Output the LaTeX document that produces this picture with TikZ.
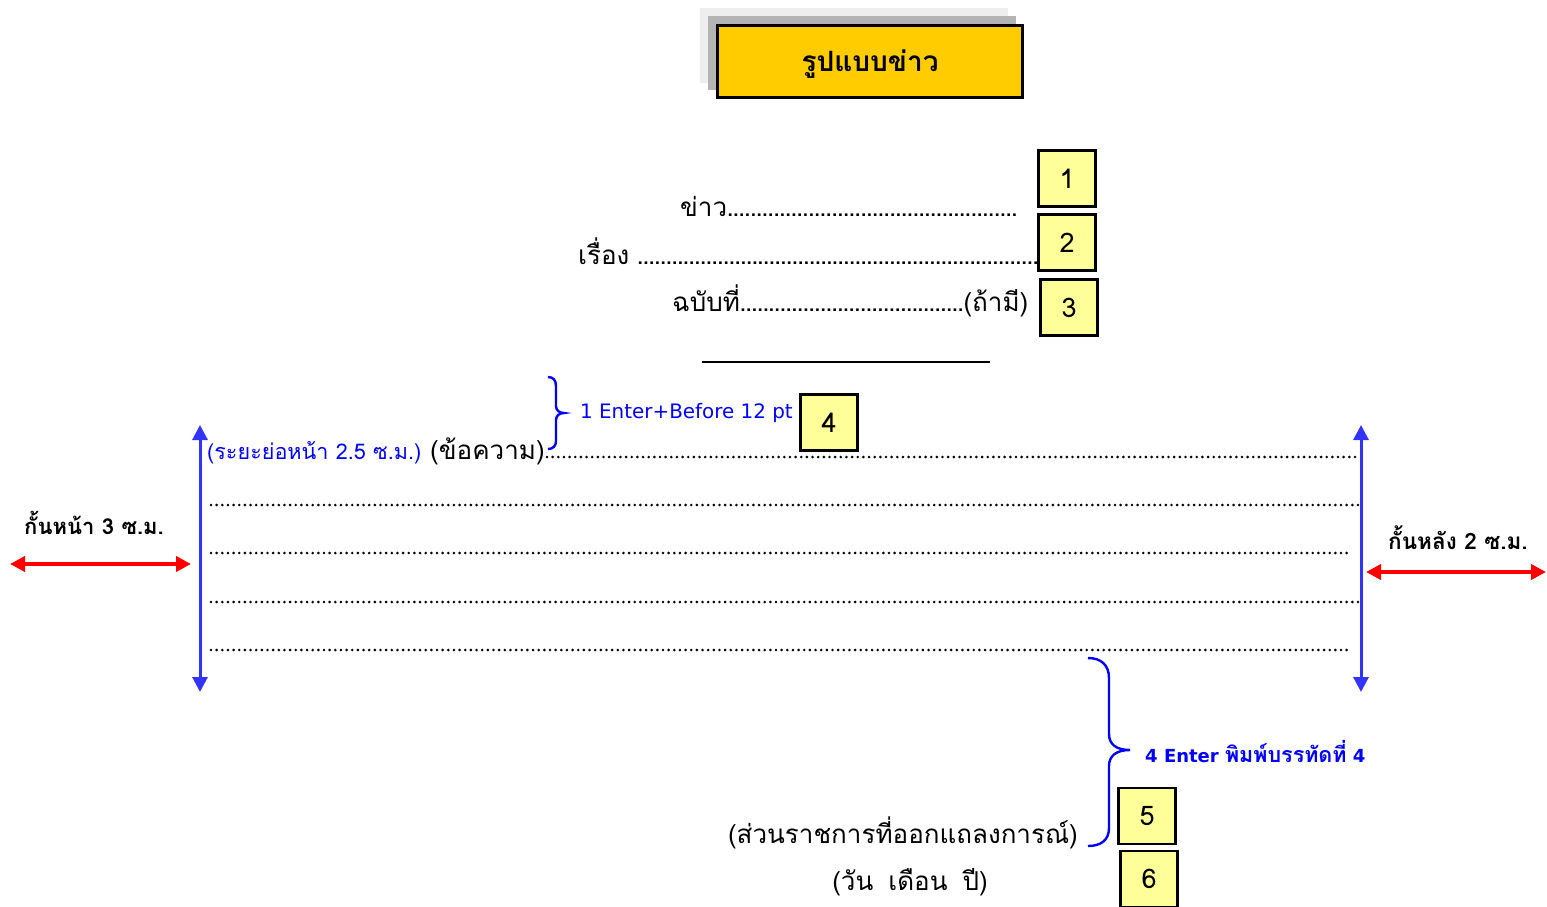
\documentclass[tikz,border=0pt]{standalone}
\usepackage{fontspec}
\usetikzlibrary{arrows.meta}
\newfontfamily\thaifont[Script=Thai]{Loma}
\newfontfamily\latfont{DejaVu Sans}
\definecolor{titleyellow}{HTML}{FFCC00}
\definecolor{boxyellow}{HTML}{FFFF99}
\definecolor{arrowblue}{HTML}{3333FF}
\definecolor{textblue}{HTML}{0000FF}
\definecolor{shadowlight}{HTML}{EEEEEE}
\definecolor{shadowdark}{HTML}{B4B4B4}
\newcommand\leaderdots{\xleaders\hbox to 5.7pt{\hss.\hss}\hfill}
\begin{document}
\begin{tikzpicture}[x=1pt,y=-1pt,
  numbox/.style={draw=black, line width=2.2pt, fill=boxyellow, minimum width=57pt,
    minimum height=56pt, inner sep=0pt, font=\thaifont\fontsize{27}{30}\selectfont},
  thai/.style={inner sep=0pt, font=\thaifont\fontsize{26}{32}\selectfont},
  thaibold/.style={inner sep=0pt, font=\thaifont\bfseries\fontsize{22}{26}\selectfont},
  bluethai/.style={inner sep=0pt, text=textblue, font=\thaifont\fontsize{21.6}{26}\selectfont},
  bluelat/.style={inner sep=0pt, text=textblue, font=\latfont\fontsize{19.9}{23}\selectfont},
  dotline/.style={line width=2.9pt, line cap=round, dash pattern=on 0pt off 5.65pt},
  bluearrow/.style={draw=arrowblue, line width=3pt,
    {Triangle[width=15pt,length=15pt]}-{Triangle[width=15pt,length=15pt]}},
  redarrow/.style={draw=red, line width=4.2pt,
    {Triangle[width=15pt,length=15pt]}-{Triangle[width=15pt,length=15pt]}},
  bracestyle/.style={draw=textblue, line width=2.4pt}]
\useasboundingbox (0,0) rectangle (1547,906);

% title
\fill[shadowlight] (700,8) rectangle (1008,83);
\fill[shadowdark] (708,16) rectangle (1016,90);
\node[draw=black, line width=2.2pt, fill=titleyellow, minimum width=305pt, minimum height=72pt,
  inner sep=0pt] (title) at (870,61.5) {};
\node[inner sep=0pt, font=\thaifont\bfseries\fontsize{28}{32}\selectfont] (titletext) at (870,64) {รูปแบบข่าว};

% header lines
\node[thai, anchor=base west] (news) at (680,216) {\makebox[337pt][l]{ข่าว\leaderdots}};
\node[thai, anchor=base west] (subject) at (578,264) {\makebox[460pt][l]{เรื่อง\hspace{8pt}\leaderdots}};
\node[thai, anchor=base west] (issue) at (672,311) {\makebox[356pt][l]{ฉบับที่\leaderdots(ถ้ามี)}};

\node[numbox] (b1) at (1067,178.5) {1};
\node[numbox] (b2) at (1067,242.5) {2};
\node[numbox] (b3) at (1069,307.5) {3};

\draw[line width=2.4pt] (702,362) -- (990,362);

% brace 1
\draw[bracestyle] (548,377) .. controls (553,377) and (556,380) .. (556,386) -- (556,406)
  .. controls (556,410) and (559,413) .. (564,413)
  .. controls (559,413) and (556,416) .. (556,420) -- (556,441)
  .. controls (556,446) and (553,449) .. (548,449);
\node[bluelat, anchor=west] (enter1) at (580,413) {1 Enter+Before 12 pt};
\node[numbox] (b4) at (829,422.5) {4};

% body
\node[bluethai, anchor=base west] (indent) at (207,459) {(ระยะย่อหน้า 2.5 ซ.ม.)};
\node[thai, anchor=base west] (msg) at (430,459) {(ข้อความ)};
\coordinate (d1s) at (547,457); \coordinate (d1e) at (1360,457);
\draw[dotline] (d1s) -- (d1e);
\draw[dotline] (211,505) -- (1363,505);
\draw[dotline] (211,553) -- (1352,553);
\draw[dotline] (211,602) -- (1363,602);
\draw[dotline] (211,650) -- (1352,650);

% margins
\coordinate (lt) at (200,425); \coordinate (lb) at (200,692);
\coordinate (rt) at (1361,425); \coordinate (rb) at (1361,692);
\draw[bluearrow] (lt) -- (lb);
\draw[bluearrow] (rt) -- (rb);

\node[thaibold, anchor=west] (leftlbl) at (24,523) {กั้นหน้า 3 ซ.ม.};
\coordinate (la) at (10,564); \coordinate (lbr) at (191,564);
\draw[redarrow] (la) -- (lbr);

\node[thaibold, anchor=west, font=\thaifont\bfseries\fontsize{22.5}{26}\selectfont] (rightlbl) at (1388,538) {กั้นหลัง 2 ซ.ม.};
\coordinate (ra) at (1366,572); \coordinate (rbr) at (1546,572);
\draw[redarrow] (ra) -- (rbr);

% brace 2
\draw[bracestyle] (1088,658) .. controls (1101,658) and (1109,665) .. (1109,678) -- (1109,734)
  .. controls (1109,744) and (1116,750) .. (1130,750)
  .. controls (1116,750) and (1109,756) .. (1109,766) -- (1109,828)
  .. controls (1109,840) and (1101,846) .. (1088,846);
\node[inner sep=0pt, text=textblue, anchor=west] (enter4) at (1145,752)
  {\latfont\bfseries\fontsize{18}{22}\selectfont 4 Enter {\thaifont\bfseries\fontsize{21.5}{24}\selectfont พิมพ์บรรทัดที่} 4};

% footer
\node[thai, anchor=base east] (dept) at (1078,843) {(ส่วนราชการที่ออกแถลงการณ์)};
\node[thai, anchor=base] (date) at (910,890) {(วัน\hspace{15pt}เดือน\hspace{15pt}ปี)};
\node[numbox] (b5) at (1147,816) {5};
\node[numbox] (b6) at (1149,879) {6};
\end{tikzpicture}
\end{document}
